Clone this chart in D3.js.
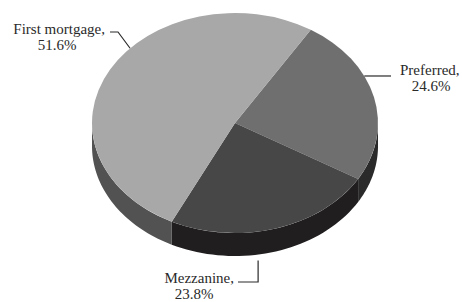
<!DOCTYPE html>
<html>
<head>
<meta charset="utf-8">
<script src="https://cdn.jsdelivr.net/npm/d3@7"></script>
<style>
  body { margin: 0; background: #fff; }
  svg text { font-family: "Liberation Serif", "DejaVu Serif", serif; }
</style>
</head>
<body>
<svg id="chart" width="462" height="302"></svg>
<script>
// data, clockwise from the first slice boundary
const categories = ["Preferred", "Mezzanine", "First mortgage"];
const shares = [24.6, 23.8, 51.6];
const labels = ["Preferred,\n24.6%", "Mezzanine,\n23.8%", "First mortgage,\n51.6%"];

const topColors = ["#6f6f6f", "#474747", "#a8a8a8"];
const sideColors = ["#2a2a2a", "#211e1f", "#525252"];

const width = 462, height = 302;
const cx = 235, cy = 123, rx = 143, ry = 110, depth = 23;
const rad = Math.PI / 180;

let svg = d3.select("#chart");

let pie = d3.pie()
  .sort(null)
  .startAngle(32 * rad)
  .endAngle(392 * rad);

let slices = pie(shares);

// point on the top ellipse, angle 0 = top, clockwise
function pt(a, dy) {
  return [cx + rx * Math.sin(a), cy - ry * Math.cos(a) + (dy || 0)];
}

// side wall, only the front half (90..270 deg) is visible
let sideGroup = svg.append("g");
slices.forEach(function (d, i) {
  let s = Math.max(d.startAngle, Math.PI / 2);
  let e = Math.min(d.endAngle, Math.PI * 1.5);
  if (e <= s) return;
  let steps = d3.range(0, 41).map(k => s + (e - s) * k / 40);
  let upper = steps.map(a => pt(a));
  let lower = steps.slice().reverse().map(a => pt(a, depth));
  sideGroup.append("path")
    .attr("d", d3.line()(upper.concat(lower)) + "Z")
    .attr("fill", sideColors[i]);
});

// top face
let arc = d3.arc().innerRadius(0).outerRadius(rx);
svg.append("g")
  .attr("transform", "translate(" + cx + "," + cy + ") scale(1," + (ry / rx) + ")")
  .selectAll("path")
  .data(slices)
  .join("path")
  .attr("d", arc)
  .attr("fill", (d, i) => topColors[i]);

// labels with leader lines
let ann = svg.append("g")
  .style("font-size", "15px")
  .attr("fill", "#2a2a2a");
let line = d3.line();

function leader(points) {
  ann.append("path").attr("d", line(points))
    .attr("stroke", "#2a2a2a").attr("fill", "none").attr("stroke-width", 1.2);
}

function label(text, x, y, anchor, x2) {
  let parts = text.split("\n");
  let t = ann.append("text").attr("x", x).attr("y", y).attr("text-anchor", anchor);
  t.append("tspan").text(parts[0]);
  t.append("tspan").attr("x", x2).attr("dy", 16).attr("text-anchor", "middle").text(parts[1]);
}

// Preferred
let pA = pt(64.7 * rad);
leader([pA, [391, pA[1]]]);
label(labels[0], 400, 75, "start", 431);

// Mezzanine
let mA = pt(170.7 * rad, depth + 6);
leader([mA, [mA[0], 282], [238, 282]]);
label(labels[1], 234, 283, "end", 194);

// First mortgage
let fA = pt(312.8 * rad);
leader([fA, [118, 32], [110, 32]]);
label(labels[2], 105, 34, "end", 57);
</script>
</body>
</html>
